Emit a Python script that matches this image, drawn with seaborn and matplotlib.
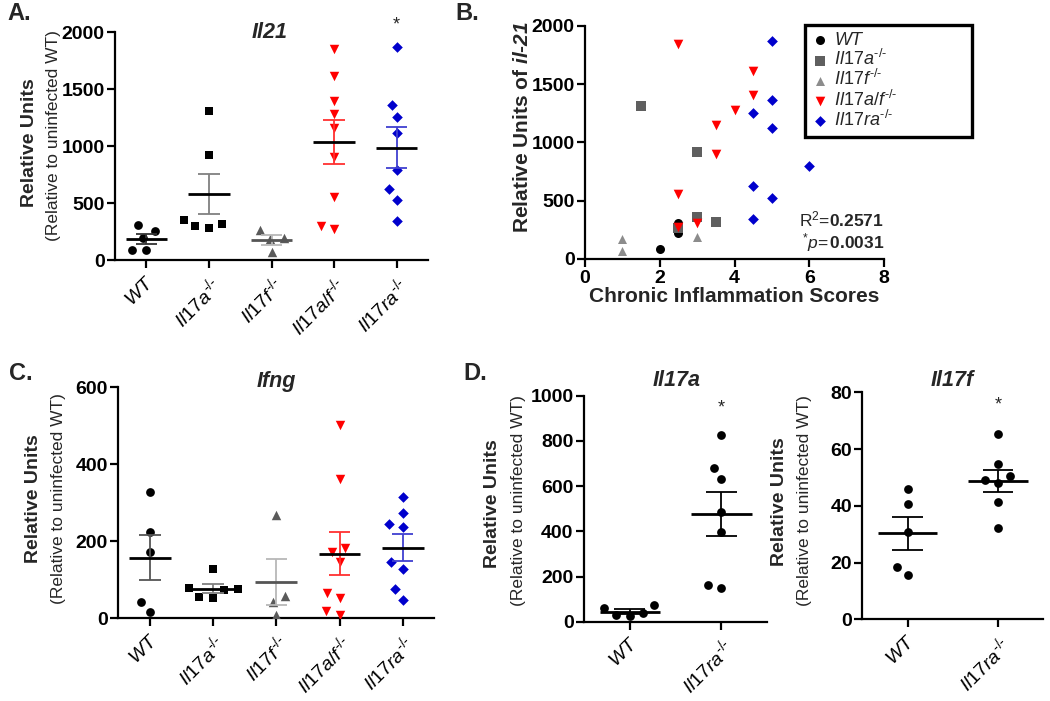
import numpy as np
import pandas as pd
import matplotlib
matplotlib.use("Agg")
import matplotlib.pyplot as plt
from matplotlib.markers import MarkerStyle
import seaborn as sns

# ── Data ────────────────────────────────────────────────────────────────────
GENOTYPES = ["WT", "Il17a", "Il17f", "Il17a/f", "Il17ra"]
SUP = r"^{\text{-/-}}"
GENO_LABELS = [r"$\mathit{WT}$", r"$\mathit{Il17a}" + SUP + "$", r"$\mathit{Il17f}" + SUP + "$",
               r"$\mathit{Il17a/f}" + SUP + "$", r"$\mathit{Il17ra}" + SUP + "$"]

# A. Il21
il21_wt = [310, 260, 200, 88, 88]
il21_a = [1313, 921, 354, 280, 319, 304]
il21_f = [265, 195, 185, 70]
il21_af = [1851, 1617, 1401, 1284, 1158, 904, 553, 272, 301]
il21_ra = [1868, 1362, 1254, 1120, 792, 623, 526, 345]

# C. Ifng
ifng_wt = [329, 225, 173, 43, 16]
ifng_a = [128, 75, 52, 78, 56, 74]
ifng_f = [268, 59, 42, 9]
ifng_af = [502, 361, 182, 173, 145, 52, 65, 9, 20]
ifng_ra = [314, 274, 238, 245, 147, 129, 76, 48]

# D. Il17a / Il17f (WT vs Il17ra-/-)
il17a_wt = [74, 25, 59, 29, 37]
il17a_ra = [826, 678, 630, 487, 398, 150, 162]
il17f_wt = [45.9, 40.5, 30.9, 15.6, 18.6]
il17f_ra = [65.3, 54.7, 50.5, 47.9, 49.1, 41.5, 32.2]

# B. Inflammation score vs Il21
b_wt_x, b_wt_y = [2, 2.5, 2.5], [80, 310, 220]
b_a_x, b_a_y = [1.5, 3, 3, 3.5, 2.5], [1315, 920, 361, 312, 261]
b_f_x, b_f_y = [1, 1, 3], [172, 69, 183]
b_af_x = [2.5, 3.5, 3.5, 2.5, 2.5, 3, 4, 4.5, 4.5]
b_af_y = [1845, 1152, 900, 553, 275, 304, 1278, 1616, 1407]
b_ra_x = [5, 5, 5, 4.5, 6, 4.5, 5, 4.5]
b_ra_y = [1874, 1364, 1120, 1255, 797, 625, 521, 344]

# ── Style ───────────────────────────────────────────────────────────────────
sns.set_theme(style="ticks")
plt.rcParams["font.family"] = ["Liberation Sans", "DejaVu Sans"]
plt.rcParams["mathtext.fontset"] = "custom"
plt.rcParams["mathtext.rm"] = "Liberation Sans"
plt.rcParams["mathtext.it"] = "Liberation Sans:italic"
plt.rcParams["mathtext.bf"] = "Liberation Sans:bold"
plt.rcParams["mathtext.bfit"] = "Liberation Sans:italic:bold"

W, H = 1050, 701
MARKERS = ["o", "s", "^", "v", "D"]
DOT_COLORS = ["black", "black", "#5a5a5a", "#ff0000", "#0000cc"]
ERR_COLORS = ["#333333", "#808080", "#b8b8b8", "#ff3030", "#4040d0"]
MEAN_COLORS = ["black", "black", "#555555", "black", "black"]
MSIZE = {"o": 6.3, "s": 6.0, "^": 6.8, "v": 6.8, "D": 5.4}
SWARM_SIZE = 9.5  # spacing used by the beeswarm layout


def fig_axes(fig, left, top, right, bottom):
    return fig.add_axes([left / W, 1 - bottom / H, (right - left) / W, (bottom - top) / H])


def style_axis(ax, yticks):
    sns.despine(ax=ax)
    for s in ["left", "bottom"]:
        ax.spines[s].set_linewidth(1.6)
        ax.spines[s].set_color("black")
    ax.tick_params(direction="out", length=6, width=1.6, colors="black", labelsize=14)
    ax.tick_params(axis="y", pad=1.5)
    ax.set_yticks(yticks)
    ax.set_ylim(yticks[0], yticks[-1])
    for t in ax.get_yticklabels():
        t.set_fontweight("bold")
    ax.set_xlabel("")
    ax.set_ylabel("")


def swarm(ax, g, vals, order, color, marker):
    n0 = len(ax.collections)
    sns.swarmplot(x=[g] * len(vals), y=vals, order=order, ax=ax, color=color,
                  marker=marker, size=SWARM_SIZE, linewidth=0, legend=False, zorder=3)
    # draw the markers smaller than the spacing the swarm layout keeps
    ms = MarkerStyle(marker)
    path = ms.get_path().transformed(ms.get_transform().frozen().scale(MSIZE[marker] / SWARM_SIZE))
    for coll in ax.collections[n0:]:
        coll.set_paths([path])


def dot_panel(ax, groups, data, markers, dot_colors, err_colors, mean_colors, labels, yticks):
    for g, vals, m, c in zip(groups, data, markers, dot_colors):
        swarm(ax, g, vals, groups, c, m)
    for i, (vals, ec, mc) in enumerate(zip(data, err_colors, mean_colors)):
        v = np.asarray(vals, dtype=float)
        mean = v.mean()
        sem = v.std(ddof=1) / np.sqrt(len(v))
        ax.errorbar(i, mean, yerr=sem, color=ec, capsize=0, lw=1.3, zorder=4)
        ax.hlines([mean - sem, mean + sem], i - 0.17, i + 0.17, color=ec, lw=1.3, zorder=4)
        ax.hlines(mean, i - 0.33, i + 0.33, color=mc, lw=2.0, zorder=5)
    ax.set_xlim(-0.5, len(groups) - 0.5)
    style_axis(ax, yticks)
    ax.set_xticks(range(len(groups)))
    ax.set_xticklabels(labels, rotation=45, ha="right", rotation_mode="anchor", fontsize=14)


def ylabel_pair(fig, x1, x2, yc1, yc2):
    fig.text(x1 / W, 1 - yc1 / H, "Relative Units", rotation=90, ha="center", va="center",
             fontsize=14, fontweight="bold")
    fig.text(x2 / W, 1 - yc2 / H, "(Relative to uninfected WT)", rotation=90, ha="center",
             va="center", fontsize=12.5)


fig = plt.figure(figsize=(W / 100, H / 100), dpi=100)

# ── A. Il21 ─────────────────────────────────────────────────────────────────
axA = fig_axes(fig, 115, 32.3, 428, 260.3)
dot_panel(axA, GENOTYPES, [il21_wt, il21_a, il21_f, il21_af, il21_ra], MARKERS, DOT_COLORS,
          ERR_COLORS, MEAN_COLORS, GENO_LABELS, [0, 500, 1000, 1500, 2000])
axA.text(4, 2060, "*", ha="center", va="center", fontsize=13, clip_on=False)
fig.text(270 / W, 1 - 32 / H, "Il21", ha="center", va="center", fontsize=15.5,
         fontweight="bold", style="italic")
ylabel_pair(fig, 29, 54, 142.5, 136)

# ── B. Score vs Il21 ────────────────────────────────────────────────────────
axB = fig_axes(fig, 585, 26, 884, 258.7)
b_df = pd.concat([
    pd.DataFrame({"score": xs, "il21": ys, "geno": g})
    for g, xs, ys in zip(GENOTYPES, [b_wt_x, b_a_x, b_f_x, b_af_x, b_ra_x],
                         [b_wt_y, b_a_y, b_f_y, b_af_y, b_ra_y])
])
B_COLORS = ["black", "#5f5f5f", "#8c8c8c", "#ff0000", "#0000cc"]
B_SIZES = {"o": 42, "s": 42, "^": 42, "v": 48, "D": 30}
for g, m, c in zip(GENOTYPES, MARKERS, B_COLORS):
    sub = b_df[b_df["geno"] == g]
    sns.scatterplot(data=sub, x="score", y="il21", marker=m, color=c, s=B_SIZES[m],
                    linewidth=0, ax=axB, label=g, zorder=3)
axB.set_xlim(0, 8)
axB.set_xticks([0, 2, 4, 6, 8])
style_axis(axB, [0, 500, 1000, 1500, 2000])
axB.tick_params(axis="x", pad=2)
for t in axB.get_xticklabels():
    t.set_fontweight("bold")
handles, _ = axB.get_legend_handles_labels()
leg = axB.legend(handles, GENO_LABELS, loc="upper left",
                 bbox_to_anchor=(805 / W, 1 - 134 / H, 167 / W, 109 / H), mode="expand",
                 bbox_transform=fig.transFigure, frameon=True, fancybox=False, fontsize=13,
                 handletextpad=0.3, labelspacing=0.0, borderpad=0.4, handlelength=0.9,
                 borderaxespad=0)
leg.get_frame().set_edgecolor("black")
leg.get_frame().set_linewidth(2.4)
leg.get_frame().set_alpha(1)
fig.text(884 / W, 1 - 219 / H, r"R$^{2}$=$\mathbf{0.2571}$", ha="right",
         va="center", fontsize=12.5)
fig.text(884 / W, 1 - 243 / H, r"$^{*}\mathit{p}$=$\,\mathbf{0.0031}$", ha="right",
         va="center", fontsize=12.5)
fig.text(734 / W, 1 - 296 / H, "Chronic Inflammation Scores", ha="center", va="center",
         fontsize=15, fontweight="bold")
fig.text(522 / W, 1 - 127 / H, r"Relative Units of $\mathbfit{il}$-$\mathbfit{21}$",
         rotation=90, ha="center", va="center", fontsize=15, fontweight="bold")

# ── C. Ifng ─────────────────────────────────────────────────────────────────
axC = fig_axes(fig, 118.3, 387.3, 434.3, 618.3)
dot_panel(axC, GENOTYPES, [ifng_wt, ifng_a, ifng_f, ifng_af, ifng_ra], MARKERS, DOT_COLORS,
          ["#555555"] + ERR_COLORS[1:], MEAN_COLORS, GENO_LABELS, [0, 200, 400, 600])
fig.text(276.7 / W, 1 - 381.7 / H, "Ifng", ha="center", va="center", fontsize=15.5,
         fontweight="bold", style="italic")
ylabel_pair(fig, 34, 58, 499, 499)

# ── D. Il17a / Il17f ────────────────────────────────────────────────────────
D_GROUPS = ["WT", "Il17ra"]
D_LABELS = [r"$\mathit{WT}$", r"$\mathit{Il17ra}" + SUP + "$"]
axD1 = fig_axes(fig, 584, 395.7, 767.3, 621.7)
dot_panel(axD1, D_GROUPS, [il17a_wt, il17a_ra], ["o", "o"], ["black"] * 2, ["black"] * 2,
          ["black"] * 2, D_LABELS, [0, 200, 400, 600, 800, 1000])
axD1.text(1, 945, "*", ha="center", va="center", fontsize=13, clip_on=False)
fig.text(676.7 / W, 1 - 380 / H, "Il17a", ha="center", va="center", fontsize=15.5,
         fontweight="bold", style="italic")
ylabel_pair(fig, 492.5, 518, 504, 501)

axD2 = fig_axes(fig, 862.3, 392.3, 1043.3, 619.3)
dot_panel(axD2, D_GROUPS, [il17f_wt, il17f_ra], ["o", "o"], ["black"] * 2, ["black"] * 2,
          ["black"] * 2, D_LABELS, [0, 20, 40, 60, 80])
axD2.text(1, 75.5, "*", ha="center", va="center", fontsize=13, clip_on=False)
fig.text(951.7 / W, 1 - 380 / H, "Il17f", ha="center", va="center", fontsize=15.5,
         fontweight="bold", style="italic")
ylabel_pair(fig, 780, 805, 502, 501)

# ── Panel letters ───────────────────────────────────────────────────────────
for letter, x, y in [("A.", 7, 14), ("B.", 455, 14), ("C.", 9, 373), ("D.", 463, 373)]:
    fig.text(x / W, 1 - y / H, letter, ha="left", va="center", fontsize=17, fontweight="bold")

fig.savefig("out.png", dpi=100)
